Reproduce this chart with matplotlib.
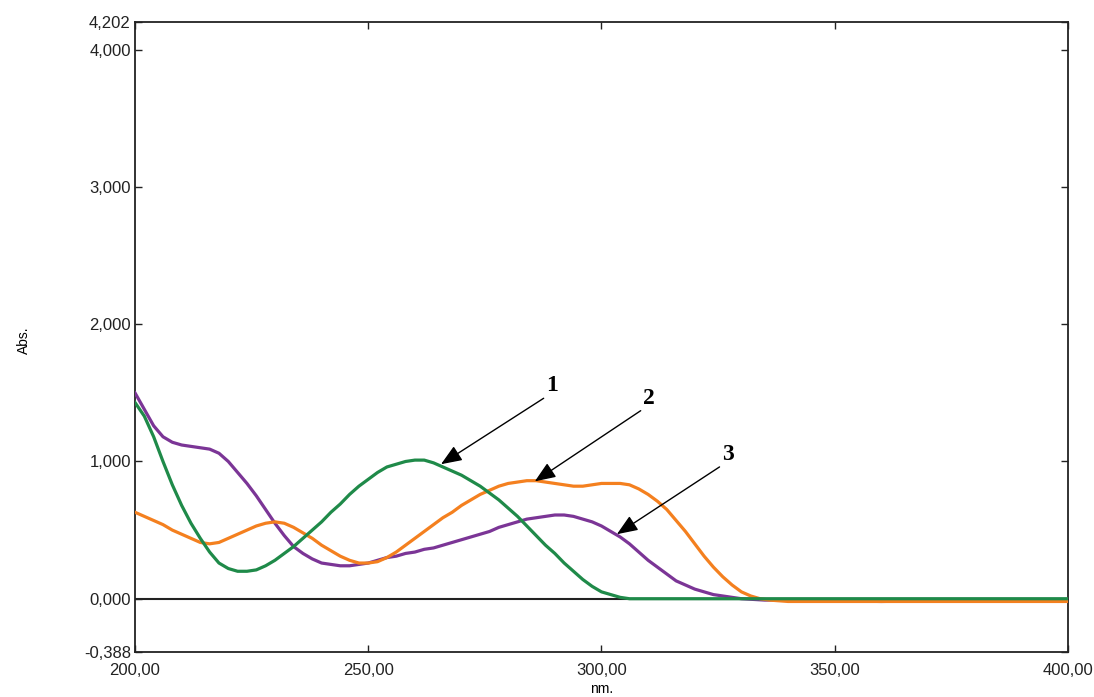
import matplotlib
matplotlib.use('Agg')
import matplotlib.pyplot as plt
from matplotlib.ticker import FixedLocator, FixedFormatter

### ------------------------------- ###
###             0. Data             ###
### ------------------------------- ###

# Spectrum 1 (green)
wl_1 = [200, 202, 204, 206, 208, 210, 212, 214, 216, 218, 220, 222, 224, 226, 228,
        230, 232, 234, 236, 238, 240, 242, 244, 246, 248, 250, 252, 254, 256, 258,
        260, 262, 264, 266, 268, 270, 272, 274, 276, 278, 280, 282, 284, 286, 288,
        290, 292, 294, 296, 298, 300, 302, 304, 306, 310, 330, 360, 400]
abs_1 = [1.43, 1.33, 1.18, 1.00, 0.83, 0.68, 0.55, 0.44, 0.34, 0.26, 0.22, 0.20, 0.20, 0.21, 0.24,
         0.28, 0.33, 0.38, 0.44, 0.50, 0.56, 0.63, 0.69, 0.76, 0.82, 0.87, 0.92, 0.96, 0.98, 1.00,
         1.01, 1.01, 0.99, 0.96, 0.93, 0.90, 0.86, 0.82, 0.77, 0.72, 0.66, 0.60, 0.53, 0.46, 0.39,
         0.33, 0.26, 0.20, 0.14, 0.09, 0.05, 0.03, 0.01, 0.00, 0.00, 0.00, 0.00, 0.00]

# Spectrum 2 (orange)
wl_2 = [200, 202, 204, 206, 208, 210, 212, 214, 216, 218, 220, 222, 224, 226, 228,
        230, 232, 234, 236, 238, 240, 242, 244, 246, 248, 250, 252, 254, 256, 258,
        260, 262, 264, 266, 268, 270, 272, 274, 276, 278, 280, 282, 284, 286, 288,
        290, 292, 294, 296, 298, 300, 302, 304, 306, 308, 310, 312, 314, 316, 318,
        320, 322, 324, 326, 328, 330, 332, 334, 336, 340, 360, 380, 400]
abs_2 = [0.63, 0.60, 0.57, 0.54, 0.50, 0.47, 0.44, 0.41, 0.40, 0.41, 0.44, 0.47, 0.50, 0.53, 0.55,
         0.56, 0.55, 0.52, 0.48, 0.44, 0.39, 0.35, 0.31, 0.28, 0.26, 0.26, 0.27, 0.30, 0.34, 0.39,
         0.44, 0.49, 0.54, 0.59, 0.63, 0.68, 0.72, 0.76, 0.79, 0.82, 0.84, 0.85, 0.86, 0.86, 0.85,
         0.84, 0.83, 0.82, 0.82, 0.83, 0.84, 0.84, 0.84, 0.83, 0.80, 0.76, 0.71, 0.65, 0.57, 0.49,
         0.40, 0.31, 0.23, 0.16, 0.10, 0.05, 0.02, 0.00, -0.01, -0.02, -0.02, -0.02, -0.02]

# Spectrum 3 (purple)
wl_3 = [200, 202, 204, 206, 208, 210, 212, 214, 216, 218, 220, 222, 224, 226, 228,
        230, 232, 234, 236, 238, 240, 242, 244, 246, 248, 250, 252, 254, 256, 258,
        260, 262, 264, 266, 268, 270, 272, 274, 276, 278, 280, 282, 284, 286, 288,
        290, 292, 294, 296, 298, 300, 302, 304, 306, 308, 310, 312, 314, 316, 318,
        320, 322, 324, 326, 328, 330, 335, 340, 360, 380, 400]
abs_3 = [1.50, 1.38, 1.26, 1.18, 1.14, 1.12, 1.11, 1.10, 1.09, 1.06, 1.00, 0.92, 0.84, 0.75, 0.65,
         0.55, 0.46, 0.38, 0.33, 0.29, 0.26, 0.25, 0.24, 0.24, 0.25, 0.26, 0.28, 0.30, 0.31, 0.33,
         0.34, 0.36, 0.37, 0.39, 0.41, 0.43, 0.45, 0.47, 0.49, 0.52, 0.54, 0.56, 0.58, 0.59, 0.60,
         0.61, 0.61, 0.60, 0.58, 0.56, 0.53, 0.49, 0.45, 0.40, 0.34, 0.28, 0.23, 0.18, 0.13, 0.10,
         0.07, 0.05, 0.03, 0.02, 0.01, 0.00, -0.01, -0.01, -0.02, -0.01, -0.01]

# Axis ticks
x_ticks = [200, 250, 300, 350, 400]
x_labels = ['200,00', '250,00', '300,00', '350,00', '400,00']
y_ticks = [-0.388, 0, 1, 2, 3, 4, 4.202]
y_labels = ['-0,388', '0,000', '1,000', '2,000', '3,000', '4,000', '4,202']

# Curve labels: text, arrow head, text anchor (arrow tail)
labels = ['1', '2', '3']
heads = [(265.6, 0.98), (285.7, 0.855), (303.3, 0.47)]
tails = [(288.2, 1.51), (309.0, 1.42), (325.9, 1.01)]

### ------------------------------- ###
###             1. Plot             ###
### ------------------------------- ###

fig = plt.figure(figsize=(10.94, 6.97), dpi=100)
ax = fig.add_axes([0.1234, 0.0646, 0.9762 - 0.1234, 0.9684 - 0.0646])

ax.axhline(0, color='#222222', lw=1.5, zorder=1)

ax.plot(wl_3, abs_3, color='#7b3596', lw=2.3, zorder=3)
ax.plot(wl_2, abs_2, color='#f4801f', lw=2.3, zorder=3)
ax.plot(wl_1, abs_1, color='#1f8a49', lw=2.3, zorder=4)

for lab, head, tail in zip(labels, heads, tails):
    ax.annotate(lab, xy=head, xytext=tail, fontsize=17, fontweight='bold',
                family='Liberation Serif', ha='left', va='baseline',
                arrowprops=dict(arrowstyle='-|>,head_length=0.75,head_width=0.3',
                                color='black', lw=1.0, shrinkA=0, shrinkB=0,
                                relpos=(0, 0)))

ax.set_xlim(200, 400)
ax.set_ylim(-0.388, 4.202)
ax.xaxis.set_major_locator(FixedLocator(x_ticks))
ax.xaxis.set_major_formatter(FixedFormatter(x_labels))
ax.yaxis.set_major_locator(FixedLocator(y_ticks))
ax.yaxis.set_major_formatter(FixedFormatter(y_labels))

ax.tick_params(direction='in', length=5, width=1.0, top=True, right=True,
               labelsize=12, colors='#222222')
ax.tick_params(axis='x', pad=8)
ax.tick_params(axis='y', pad=3)
for lab in ax.get_xticklabels() + ax.get_yticklabels():
    lab.set_family('Liberation Sans')

for sp in ax.spines.values():
    sp.set_linewidth(1.3)
    sp.set_color('#222222')

ax.set_ylabel('Abs.', fontsize=10, family='Liberation Sans')
ax.yaxis.set_label_coords(-0.112, 0.495)
ax.set_xlabel('nm.', fontsize=10, family='Liberation Sans')
ax.xaxis.set_label_coords(0.5, -0.047)

fig.savefig('out.png', dpi=100)
